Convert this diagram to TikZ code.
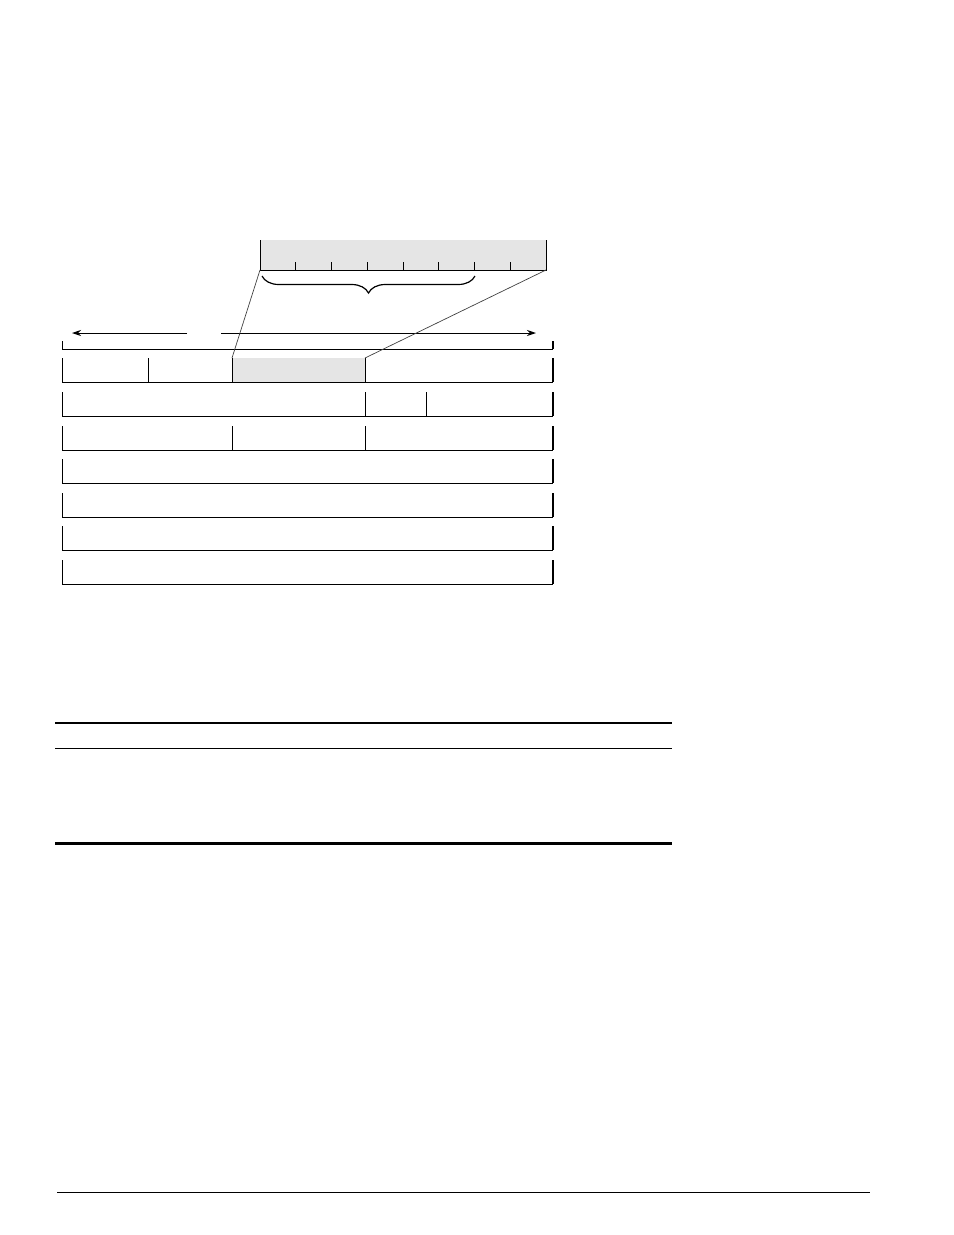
\documentclass[tikz,border=0pt]{standalone}
\usepackage{tikz}
\usetikzlibrary{arrows.meta,decorations.pathreplacing}

\tikzset{
    rowline/.style={line width=1bp},
    rowend/.style={line width=2bp},
    cellfill/.style={fill=black!10},
    zoomline/.style={black!75, line width=0.7bp},
    spanarrow/.style={line width=1bp, -{Stealth[length=9bp,width=6bp]}}
}

\begin{document}
\begin{tikzpicture}[x=1bp,y=-1bp]
    \useasboundingbox (0,0) rectangle (954,1235);

    % the octet, blown up
    \fill[cellfill] (260,240) rectangle (546,270);
    \draw[rowline] (260,240) -- (260,270) -- (546,270) -- (546,240);
    \foreach \k in {1,...,7}
        \draw[rowline] (260+\k*35.75,262) -- (260+\k*35.75,270);
    \draw[line width=1.6bp] (474.5,262) -- (474.5,270);
    \coordinate (oct-sw) at (260,270);
    \coordinate (oct-se) at (546,270);

    % brace under the first six bits
    \coordinate (brace-l) at (262,276);
    \coordinate (brace-r) at (475,276);
    \draw[line width=1.2bp, decorate, decoration={brace, mirror, amplitude=17bp}] (brace-l) -- (brace-r);

    % width of the header
    \coordinate (span-l) at (72,333);
    \coordinate (span-r) at (536,333);
    \draw[spanarrow] (187,333) -- (span-l);
    \draw[spanarrow] (221,333) -- (span-r);
    \draw[rowline] (62,341) -- (62,349) -- (553,349);
    \draw[rowend] (553,341) -- (553,349);

    % header rows
    \fill[cellfill] (232,358) rectangle (365,382);
    \foreach \ry in {358,392,426,459,493,526,560} {
        \draw[rowline] (62,\ry) -- (62,\ry+24) -- (553,\ry+24);
        \draw[rowend] (553,\ry) -- (553,\ry+24);
    }
    \foreach \cx in {148,232,365}
        \draw[rowline] (\cx,358) -- (\cx,382);
    \foreach \cx in {365,426}
        \draw[rowline] (\cx,392) -- (\cx,416);
    \foreach \cx in {232,365}
        \draw[rowline] (\cx,426) -- (\cx,450);
    \coordinate (cell-nw) at (232,358);
    \coordinate (cell-ne) at (365,358);

    % zoom lines
    \draw[zoomline] (oct-sw) -- (cell-nw);
    \draw[zoomline] (oct-se) -- (cell-ne);

    % table rules
    \draw[line width=2bp] (55,723) -- (672,723);
    \draw[line width=1bp] (55,748.5) -- (672,748.5);
    \draw[line width=3bp] (55,843) -- (672,843);

    % footer rule
    \draw[line width=1bp] (57,1192) -- (870,1192);
\end{tikzpicture}
\end{document}
